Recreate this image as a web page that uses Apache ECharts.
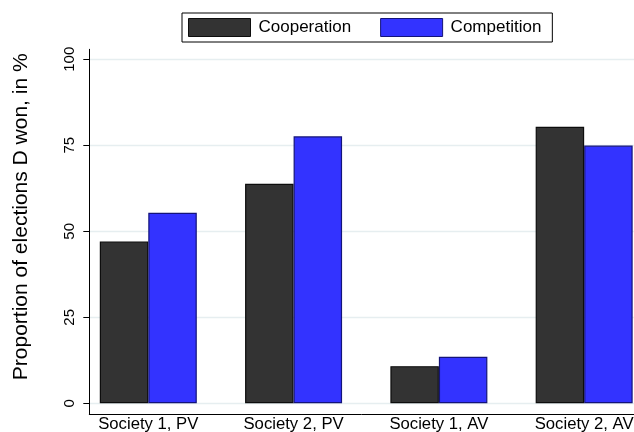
<!DOCTYPE html>
<html>
<head>
<meta charset="utf-8">
<script src="https://cdn.jsdelivr.net/npm/echarts@6/dist/echarts.min.js"></script>
<style>
  html, body { margin: 0; padding: 0; background: #fff; }
  #chart { width: 634px; height: 432px; }
</style>
</head>
<body>
<div id="chart"></div>
<script>
// Groups along the horizontal axis
const categories = ['Society 1, PV', 'Society 2, PV', 'Society 1, AV', 'Society 2, AV'];
// Share of elections won by D, in percent
const cooperation = [47.0, 63.8, 10.8, 80.4];
const competition = [55.4, 77.6, 13.5, 74.9];
const yTicks = [0, 25, 50, 75, 100];
const seriesNames = ['Cooperation', 'Competition'];

const FONT = '"Liberation Sans", Arial, Helvetica, sans-serif';
const positions = categories.map((_, i) => i);
const toPoints = vals => vals.map((v, i) => [positions[i], v]);

const chart = echarts.init(document.getElementById('chart'), null, { renderer: 'canvas' });

chart.setOption({
  animation: false,
  backgroundColor: '#ffffff',
  textStyle: { fontFamily: FONT },
  legend: {
    data: seriesNames,
    left: 182,
    top: 13,
    orient: 'horizontal',
    itemWidth: 62,
    itemHeight: 18,
    itemGap: 29,
    itemStyle: { borderWidth: 1 },
    padding: [5, 11, 5, 6],
    borderColor: '#000',
    borderWidth: 1,
    backgroundColor: '#fff',
    borderRadius: 0,
    textStyle: { fontSize: 17, color: '#000', fontFamily: FONT, padding: [0, 0, 0, 3] },
    icon: 'rect'
  },
  grid: {
    left: 89.3,
    right: 0,
    top: 49.3,
    bottom: 17.7,
    containLabel: false,
    outerBoundsMode: 'none'
  },
  xAxis: {
    type: 'value',
    min: -0.406,
    max: 3.343,
    axisLine: { show: true, onZero: false, lineStyle: { color: '#000', width: 1 } },
    axisTick: { show: false, customValues: positions },
    splitLine: { show: false },
    axisLabel: {
      customValues: positions,
      formatter: v => categories[Math.round(v)] || '',
      color: '#000',
      fontSize: 16.7,
      fontFamily: FONT,
      margin: 2,
      showMinLabel: true,
      showMaxLabel: true
    }
  },
  yAxis: {
    type: 'value',
    min: -3.2,
    max: 102.9,
    name: 'Proportion of elections D won, in %',
    nameLocation: 'middle',
    nameGap: 58,
    nameRotate: 90,
    nameTextStyle: { fontSize: 21, color: '#000', fontFamily: FONT, padding: [0, 0, 0, 30] },
    axisLine: { show: true, onZero: false, lineStyle: { color: '#000', width: 1 } },
    axisTick: { show: true, customValues: yTicks, length: 6, lineStyle: { color: '#000' } },
    splitLine: { show: true, lineStyle: { color: '#e6eef0', width: 1.3 } },
    axisLabel: {
      customValues: yTicks,
      rotate: 90,
      color: '#000',
      fontSize: 15,
      fontFamily: FONT,
      margin: 12
    }
  },
  series: [
    {
      name: seriesNames[0],
      type: 'bar',
      data: toPoints(cooperation),
      barWidth: 48.5,
      barGap: '0%',
      itemStyle: { color: '#333333', borderColor: '#0d0d0d', borderWidth: 1.2 }
    },
    {
      name: seriesNames[1],
      type: 'bar',
      data: toPoints(competition),
      barWidth: 48.5,
      barGap: '0%',
      itemStyle: { color: '#3333ff', borderColor: '#14147a', borderWidth: 1.2 }
    }
  ]
});
</script>
</body>
</html>
